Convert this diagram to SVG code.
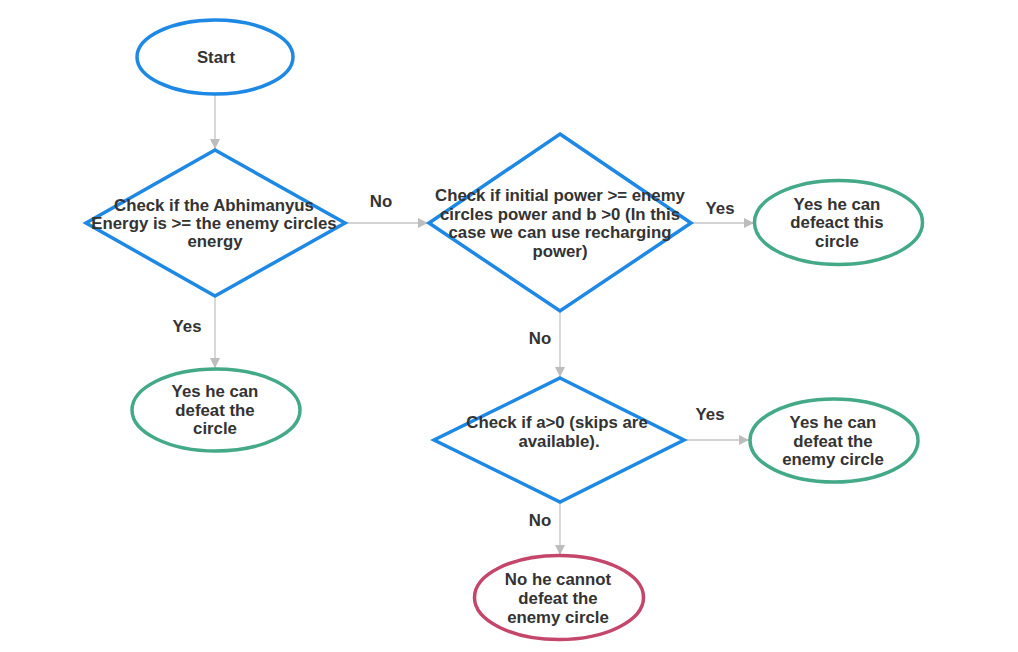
<svg xmlns="http://www.w3.org/2000/svg" width="1018" height="652" viewBox="0 0 1018 652">
<defs>
<marker id="arr" viewBox="0 0 10 10" refX="10" refY="5" markerWidth="10" markerHeight="10" markerUnits="userSpaceOnUse" orient="auto">
<path d="M0,0 L10,5 L0,10 Z" fill="#bdbdbd"/>
</marker>
<style>
.t{font-family:"Liberation Sans",Arial,sans-serif;font-weight:bold;font-size:16.8px;fill:#333333;text-anchor:middle}
.blue{fill:#ffffff;stroke:#1e88e5;stroke-width:3.5}
.green{fill:#ffffff;stroke:#43a987;stroke-width:3.5}
.red{fill:#ffffff;stroke:#c4466a;stroke-width:3.5}
.c{stroke:#c4c4c4;stroke-width:1.3;fill:none;marker-end:url(#arr)}
</style>
</defs>
<rect width="1018" height="652" fill="#ffffff"/>
<g id="connectors">
<line class="c" x1="215" y1="95" x2="215" y2="149"/>
<line class="c" x1="345" y1="223" x2="428" y2="223"/>
<line class="c" x1="215" y1="297" x2="215" y2="368"/>
<line class="c" x1="691" y1="223" x2="754" y2="223"/>
<line class="c" x1="560" y1="311" x2="560" y2="377"/>
<line class="c" x1="684" y1="440" x2="749" y2="440"/>
<line class="c" x1="560" y1="503" x2="560" y2="555"/>
<text class="t" x="381" y="207">No</text>
<text class="t" x="187" y="332">Yes</text>
<text class="t" x="720" y="214">Yes</text>
<text class="t" x="540" y="344">No</text>
<text class="t" x="710" y="420">Yes</text>
<text class="t" x="540" y="526">No</text>
</g>
<g id="start">
<ellipse class="blue" cx="215" cy="57" rx="78" ry="37"/>
<text class="t" x="216" y="63">Start</text>
</g>
<g id="check1">
<polygon class="blue" points="215,150 345,223 215,296 86,223"/>
<text class="t" x="214" y="211">Check if the Abhimanyus</text>
<text class="t" x="214" y="229">Energy is &gt;= the enemy circles</text>
<text class="t" x="215" y="247">energy</text>
</g>
<g id="yes1">
<ellipse class="green" cx="216" cy="410" rx="84" ry="41"/>
<text class="t" x="215" y="397">Yes he can</text>
<text class="t" x="215" y="415.5">defeat the</text>
<text class="t" x="215" y="434">circle</text>
</g>
<g id="check2">
<polygon class="blue" points="560,134 691,223 560,311 429,223"/>
<text class="t" x="560" y="201">Check if initial power &gt;= enemy</text>
<text class="t" x="560" y="219.5">circles power and b &gt;0 (In this</text>
<text class="t" x="560" y="238">case we can use recharging</text>
<text class="t" x="560" y="256.5">power)</text>
</g>
<g id="yes2">
<ellipse class="green" cx="838.5" cy="222.5" rx="84" ry="42"/>
<text class="t" x="837" y="209.5">Yes he can</text>
<text class="t" x="837" y="228">defeact this</text>
<text class="t" x="837" y="246.5">circle</text>
</g>
<g id="check3">
<polygon class="blue" points="560,378 684,440 560,502 434,440"/>
<text class="t" x="557" y="428">Check if a&gt;0 (skips are</text>
<text class="t" x="559" y="446.5">available).</text>
</g>
<g id="yes3">
<ellipse class="green" cx="834" cy="440.5" rx="84" ry="41.5"/>
<text class="t" x="833" y="428">Yes he can</text>
<text class="t" x="833" y="446.5">defeat the</text>
<text class="t" x="833" y="465">enemy circle</text>
</g>
<g id="no">
<ellipse class="red" cx="559" cy="597.5" rx="84.5" ry="42"/>
<text class="t" x="558" y="584.5">No he cannot</text>
<text class="t" x="558" y="603.5">defeat the</text>
<text class="t" x="558" y="622.5">enemy circle</text>
</g>
</svg>
